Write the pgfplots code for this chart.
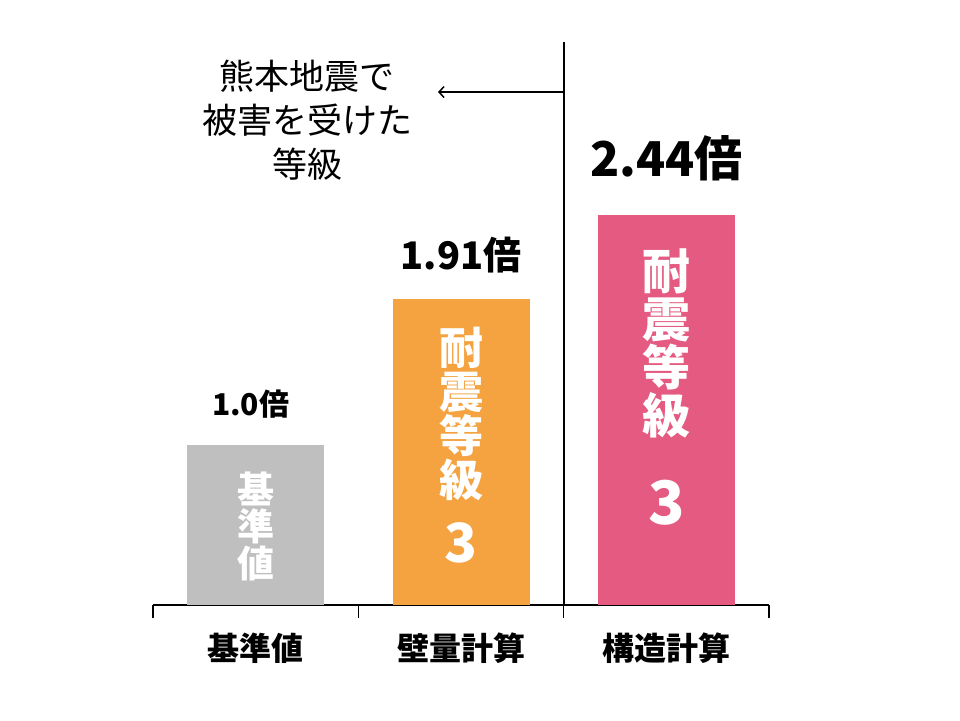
\documentclass[border=0pt]{standalone}
\usepackage{pgfplots}
\pgfplotsset{compat=1.18}
\usepackage{fontspec}
\newfontfamily\cjk{Noto Sans CJK JP}
\usetikzlibrary{arrows.meta}
\definecolor{cgray}{HTML}{BFBFBF}
\definecolor{corange}{HTML}{F4A340}
\definecolor{cpink}{HTML}{E45A80}
\newcommand{\fs}[2]{\fontsize{#1}{#2}\selectfont}
\begin{document}
\begin{tikzpicture}
\path (-255.67pt,-115pt) rectangle (704.33pt,605pt);
\begin{axis}[
  anchor=origin, at={(0pt,0pt)},
  scale only axis, width=616pt, height=563pt,
  xmin=-0.5, xmax=2.5, ymin=0, ymax=3.51875,
  axis x line=bottom, axis y line=none,
  x axis line style={-, line width=1.3pt, black},
  xtick={0,1,2}, xticklabels={基準値,壁量計算,構造計算},
  major tick length=0pt,
  xticklabel style={font=\cjk\bfseries\fs{32}{32}, anchor=center, yshift=-43pt, text=black},
  extra x ticks={-0.5,0.5,1.5,2.5}, extra x tick labels={},
  extra x tick style={major tick length=13pt, tick align=outside, tick style={line width=1.3pt, black}},
  ybar, bar width=137pt,
  clip=false,
]
\addplot[fill=cgray, draw=none, bar shift=0pt] coordinates {(0,1.0)};
\addplot[fill=corange, draw=none, bar shift=0pt] coordinates {(1,1.91)};
\addplot[fill=cpink, draw=none, bar shift=0pt] coordinates {(2,2.44)};

\draw[line width=2pt, black] (axis cs:1.5,0) -- (axis cs:1.5,3.51875);
\draw[line width=1.5pt, black, -{Straight Barb[length=5pt,width=11pt]}] (axis cs:1.5,3.206) -- (axis cs:0.888,3.206);

\node[font=\cjk\fs{35}{44}, align=center] at (axis cs:0.25,3.031) {熊本地震で\\被害を受けた\\等級};

\node[font=\cjk\bfseries\fs{30}{30}] at (axis cs:-0.025,1.256) {1.0倍};
\node[font=\cjk\bfseries\fs{38}{38}] at (axis cs:1,2.1875) {1.91倍};
\node[font=\cjk\bfseries\fs{48}{48}] at (axis cs:2,2.794) {2.44倍};

\node[font=\cjk\bfseries\fs{37}{37}, text=white, align=center] at (axis cs:0,0.494) {基\\準\\値};
\node[font=\cjk\bfseries\fs{44}{44}, text=white, align=center] at (axis cs:1,1.194) {耐\\震\\等\\級};
\node[font=\cjk\bfseries\fs{54}{54}, text=white] at (axis cs:1,0.3875) {3};
\node[font=\cjk\bfseries\fs{48}{48}, text=white, align=center] at (axis cs:2,1.634) {耐\\震\\等\\級};
\node[font=\cjk\bfseries\fs{60}{60}, text=white] at (axis cs:2,0.6375) {3};
\end{axis}
\end{tikzpicture}
\end{document}
